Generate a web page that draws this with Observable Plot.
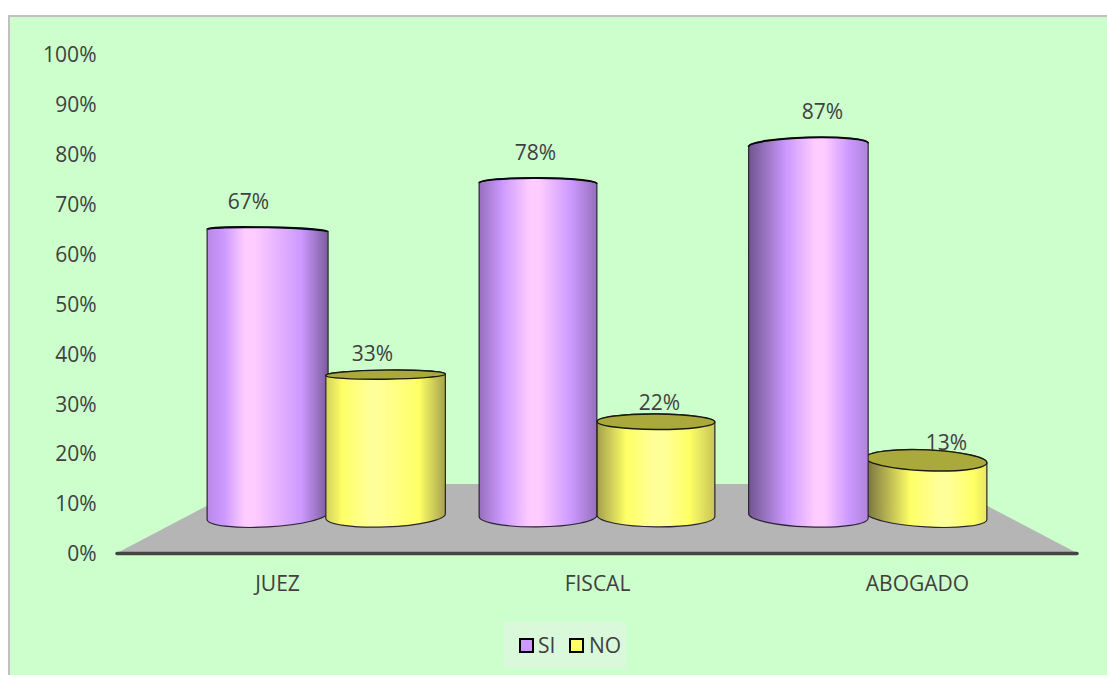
<!DOCTYPE html>
<html>
<head>
<meta charset="utf-8">
<script src="https://cdn.jsdelivr.net/npm/d3@7"></script>
<script src="https://cdn.jsdelivr.net/npm/@observablehq/plot@0.6"></script>
<style>
  html, body { margin: 0; padding: 0; background: #fff; overflow: hidden; }
  #page { position: relative; width: 1107px; height: 675px; overflow: hidden; font-family: "Open Sans", sans-serif; color: #404040; }
  #panel { position: absolute; left: 8px; top: 15px; right: -4px; bottom: -4px; background: #ccffcc; border: 2px solid #c0c0c0; }
  #chart { position: relative; }
  #chart svg { display: block; background: transparent; }
  #legend { position: relative; margin-left: 504px; width: 122px; height: 46px; background: #daf9da; font-size: 21px; line-height: 46px; }
  #legend span { position: absolute; top: 0; }
  #legend i { position: absolute; top: 16px; width: 11px; height: 11px; border: 2px solid #000; }
</style>
</head>
<body>
<div id="page">
  <div id="panel"></div>
  <div id="chart"></div>
  <div id="legend">
    <i style="left:15px;background:#cc99ff"></i><span style="left:34px">SI</span>
    <i style="left:65px;background:#ffff66"></i><span style="left:85px">NO</span>
  </div>
</div>
<script>
const categories = ["JUEZ", "FISCAL", "ABOGADO"];
const siValues = [67, 78, 87];
const noValues = [33, 22, 13];
const tickValues = [0, 10, 20, 30, 40, 50, 60, 70, 80, 90, 100];

const rows = categories.flatMap((cat, i) => [
  {cat, serie: "SI", value: siValues[i]},
  {cat, serie: "NO", value: noValues[i]}
]);

const palette = {
  SI: {base: "#cc99ff", light: "#ffccff", top: "#cc99ff"},
  NO: {base: "#ffff66", light: "#ffff99", top: "#aaaa3c"}
};
const shade = (c, a) => d3.interpolateRgb(c, "#1c1428")(a);
const ns = "http://www.w3.org/2000/svg";

// Floor of the 3-D scene, from the scales' own extent
function floor(index, {x, y}) {
  const [x0, x1] = x.range();
  const cx = (x0 + x1) / 2, k = 0.726, vy = 301, y0 = y(0);
  const back = y0 * k + vy * (1 - k);
  const p = document.createElementNS(ns, "path");
  p.setAttribute("d", `M${x0},${y0}L${cx + (x0 - cx) * k},${back}L${cx + (x1 - cx) * k},${back}L${x1},${y0}Z`);
  p.setAttribute("fill", "#b5b5b5");
  return p;
}

// Cylinders: the bar's band and value are projected onto the scene's back plane
function cylinders(index, scales, values, dims) {
  const {x, y} = scales;
  const [r0, r1] = x.range();
  const cx = (r0 + r1) / 2, k = 0.858, kx = 0.845, vy = 292;
  const g = document.createElementNS(ns, "g");
  const defs = document.createElementNS(ns, "defs");
  g.appendChild(defs);
  const items = Array.from(index, i => {
    const d = rows[i];
    const groupX = x(d.cat) + x.bandwidth() / 2;
    const xc = cx + (groupX - cx) * kx + (d.serie === "SI" ? -59 : 59);
    return {d, xc, i};
  }).sort((a, b) => Math.abs(b.xc - cx) - Math.abs(a.xc - cx));

  const eye = 305, tiltK = 1e-4;
  for (const {d, xc, i} of items) {
    const off = xc - cx;
    const w = 117 + Math.abs(off) * 0.012;
    const rx = w / 2, xl = xc - rx, xr = xc + rx;
    const above = vy + (y(d.value) - vy) * k > eye;
    const yTop = vy + (y(d.value) - vy) * k + (above ? 0 : 1.5);
    const yBot = vy + (y(0) - vy) * k;
    const ryBot = 11;
    const ryTop = above ? Math.max(2, (yTop - 309) * 0.069) : Math.max(2, (295 - yTop) * 0.05);
    const tTop = off * (yTop - eye) * tiltK, tBot = off * (yBot - eye) * tiltK;
    const rotTop = Math.atan2(tTop, w) * 180 / Math.PI, rotBot = Math.atan2(tBot, w) * 180 / Math.PI;
    const t = off / 330, col = palette[d.serie];
    const h = 0.5 + 0.15 * t, ls = 0.36 + 0.25 * t, rs = 0.28 - 0.18 * t;
    const id = `cyl${i}`;
    const lg = document.createElementNS(ns, "linearGradient");
    lg.setAttribute("id", id);
    [[0, shade(col.base, ls)], [Math.max(0.14, h - 0.28), col.base], [h - 0.04, col.light], [h + 0.04, col.light], [Math.max(h + 0.24, 0.78), col.base], [1, shade(col.base, rs)]]
      .forEach(([o, c]) => {
        const s = document.createElementNS(ns, "stop");
        s.setAttribute("offset", o); s.setAttribute("stop-color", c);
        lg.appendChild(s);
      });
    defs.appendChild(lg);
    const body = document.createElementNS(ns, "path");
    body.setAttribute("d",
      `M${xl},${yTop - tTop / 2}L${xl},${yBot - tBot / 2}` +
      `A${rx},${ryBot} ${rotBot} 0 0 ${xr},${yBot + tBot / 2}` +
      `L${xr},${yTop + tTop / 2}` +
      `A${rx},${ryTop} ${rotTop} 0 0 ${xl},${yTop - tTop / 2}Z`);
    body.setAttribute("fill", `url(#${id})`);
    body.setAttribute("stroke", "#2a2330");
    body.setAttribute("stroke-width", 1.2);
    g.appendChild(body);
    const cap = document.createElementNS(ns, "path");
    if (above) {
      cap.setAttribute("d",
        `M${xl},${yTop - tTop / 2}A${rx},${ryTop} ${rotTop} 1 1 ${xr},${yTop + tTop / 2}` +
        `A${rx},${ryTop} ${rotTop} 1 1 ${xl},${yTop - tTop / 2}Z`);
      cap.setAttribute("fill", col.top);
      cap.setAttribute("stroke", "#1a1a10");
      cap.setAttribute("stroke-width", 1.4);
    } else {
      cap.setAttribute("d", `M${xl},${yTop - tTop / 2}A${rx},${ryTop} ${rotTop} 0 1 ${xr},${yTop + tTop / 2}`);
      cap.setAttribute("fill", "none");
      cap.setAttribute("stroke", "#0a0810");
      cap.setAttribute("stroke-width", 2);
    }
    g.appendChild(cap);
  }
  return g;
}

// Value labels sit on their own plane of the scene
function labelPlane(index, scales, values, dims, context, next) {
  const {x, y} = scales;
  const [r0, r1] = x.range();
  const cx = (r0 + r1) / 2, k = 0.897, vy = 52;
  const X = new Float64Array(rows.length), Y = new Float64Array(rows.length);
  for (const i of index) {
    const d = rows[i];
    const gx = x(d.cat) + x.bandwidth() / 2;
    X[i] = cx + (gx - cx) * k + (d.serie === "SI" ? -62 : 62) - x.bandwidth() / 2;
    Y[i] = vy + (y(d.value) - vy) * k;
  }
  return next(index, scales, {...values, x: X, y: Y}, dims, context);
}

const chart = Plot.plot({
  width: 1107,
  height: 622,
  marginLeft: 117,
  marginRight: 30,
  marginTop: 54,
  marginBottom: 69,
  style: {background: "transparent", fontFamily: '"Open Sans", sans-serif', fontSize: "21px", color: "#404040"},
  x: {type: "band", domain: categories, padding: 0, label: null},
  y: {domain: [0, 100], label: null},
  marks: [
    floor,
    Plot.ruleY([0], {stroke: "#444", strokeWidth: 3.5, strokeLinecap: "round"}),
    Plot.barY(rows, {x: "cat", y: "value", render: cylinders}),
    Plot.text(rows, {x: "cat", y: "value", text: d => d.value + "%", fill: "#404040", fontSize: 21, render: labelPlane}),
    Plot.axisY({ticks: tickValues, tickSize: 0, tickPadding: 21, dy: 1, tickFormat: d => d + "%", fontSize: 21, fill: "#404040", label: null, marginLeft: 117}),
    Plot.axisX({tickSize: 0, tickPadding: 23, fontSize: 21, fill: "#404040", label: null, marginBottom: 69})
  ]
});
document.getElementById("chart").appendChild(chart);
</script>
</body>
</html>
